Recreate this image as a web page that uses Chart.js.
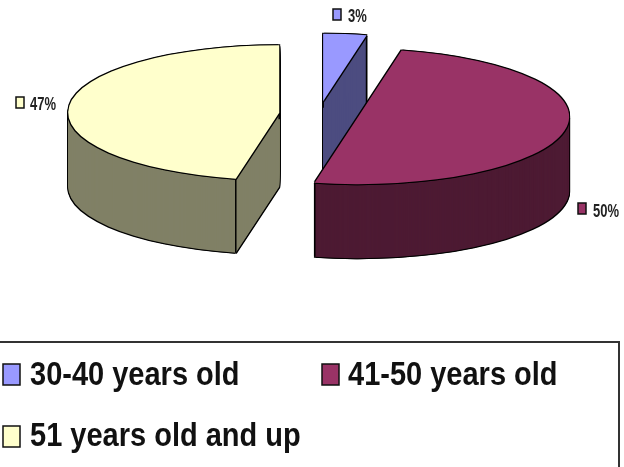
<!DOCTYPE html>
<html>
<head>
<meta charset="utf-8">
<style>
html, body { margin: 0; padding: 0; background: #fff; overflow: hidden; }
canvas { display: block; }
</style>
</head>
<body>
<canvas id="ageChart" width="624" height="467"></canvas>
<script src="https://cdn.jsdelivr.net/npm/chart.js@4/dist/chart.umd.min.js"></script>
<script>
// data, the shares (printed rounded)
const ageLabels = ['30-40 years old', '41-50 years old', '51 years old and up'];
const ageValues = [3.3, 50, 46.7];
const topColors = ['#9999FF', '#993366', '#FFFFCC'];
const sideColors = ['#4C4C80', '#4D1A33', '#808066'];

// where the flattened pie sits on the page
const pieCenterX = 319;
const pieCenterY = 114;
const squash = 0.32;
const depth = 74;
const explode = 40; // each slice moves this far along its middle angle

// small percent labels next to the slices: box x, box y, text x, text centre y
const sliceLabelPos = [
    [333, 9, 348, 17],
    [578, 203, 593, 212],
    [16, 97, 30, 105]
];
// legend rows: box x, box y, text x, text centre y
const legendPos = [
    [3, 364, 30, 376],
    [322, 364, 348, 376],
    [3, 426, 30, 437]
];

// draw text stretched vertically, the picture is a stretched screenshot
function stretchedText(ctx, text, x, y, font, stretch, color) {
    ctx.save();
    ctx.translate(x, y);
    ctx.scale(1, stretch);
    ctx.font = font;
    ctx.fillStyle = color;
    ctx.textAlign = 'left';
    ctx.textBaseline = 'middle';
    ctx.fillText(text, 0, 0);
    ctx.restore();
}

function keyBox(ctx, x, y, w, h, color) {
    ctx.fillStyle = color;
    ctx.strokeStyle = '#111';
    ctx.lineWidth = 1.5;
    ctx.fillRect(x, y, w, h);
    ctx.strokeRect(x, y, w, h);
}

// flat pie + extrusion, every layer is the library's own arc element
const pie3d = {
    id: 'pie3d',
    beforeDatasetsDraw(chart) {
        const ctx = chart.ctx;
        const arcs = chart.getDatasetMeta(0).data;

        function drawArc(arc, color, dx, dy) {
            const saved = arc.options;
            const mid = (arc.startAngle + arc.endAngle) / 2;
            arc.options = Object.assign({}, saved, { backgroundColor: color, borderColor: color, borderWidth: 0 });
            ctx.save();
            ctx.translate(pieCenterX + dx, pieCenterY + dy);
            ctx.scale(1, squash);
            ctx.translate(Math.cos(mid) * explode - arc.x, Math.sin(mid) * explode - arc.y);
            arc.draw(ctx);
            ctx.restore();
            arc.options = saved;
        }

        // page position of a point on the rim of the slice
        function rimPoint(arc, angle) {
            const mid = (arc.startAngle + arc.endAngle) / 2;
            return {
                x: pieCenterX + Math.cos(mid) * explode + Math.cos(angle) * arc.outerRadius,
                y: pieCenterY + (Math.sin(mid) * explode + Math.sin(angle) * arc.outerRadius) * squash
            };
        }

        arcs.forEach((arc, i) => {
            // black edge, then the side walls
            for (let d = depth; d >= 0; d--) {
                drawArc(arc, '#000', -1, d + 1);
                drawArc(arc, '#000', 1, d + 1);
            }
            for (let d = depth; d >= 0; d--) {
                drawArc(arc, sideColors[i], 0, d);
            }
            // vertical edges where the rim meets the cut faces
            ctx.strokeStyle = '#000';
            ctx.lineWidth = 1.5;
            [rimPoint(arc, arc.startAngle), rimPoint(arc, arc.endAngle)].forEach(p => {
                ctx.beginPath();
                ctx.moveTo(p.x, p.y);
                ctx.lineTo(p.x, p.y + depth);
                ctx.stroke();
            });
            // top face
            drawArc(arc, '#000', -1, -1);
            drawArc(arc, '#000', 1, -1);
            drawArc(arc, '#000', -1, 1);
            drawArc(arc, '#000', 1, 1);
            drawArc(arc, topColors[i], 0, 0);
        });
        return false;
    },
    afterDraw(chart) {
        const ctx = chart.ctx;

        // percent labels
        ageValues.forEach((v, i) => {
            const p = sliceLabelPos[i];
            keyBox(ctx, p[0], p[1], 8, 11, topColors[i]);
            stretchedText(ctx, Math.round(v) + '%', p[2], p[3], 'bold 13px "Liberation Sans"', 1.35, '#222');
        });

        // legend frame, open at the bottom of the page
        ctx.strokeStyle = '#333';
        ctx.lineWidth = 2;
        ctx.beginPath();
        ctx.moveTo(0, 342);
        ctx.lineTo(619, 342);
        ctx.lineTo(619, 467);
        ctx.stroke();

        ageLabels.forEach((label, i) => {
            const p = legendPos[i];
            keyBox(ctx, p[0], p[1], 17, 21, topColors[i]);
            stretchedText(ctx, label, p[2], p[3], 'bold 29px "Liberation Sans"', 1.14, '#111');
        });
    }
};

new Chart(document.getElementById('ageChart'), {
    type: 'pie',
    data: {
        labels: ageLabels,
        datasets: [{
            data: ageValues,
            backgroundColor: topColors,
            borderWidth: 0,
            radius: 211
        }]
    },
    options: {
        responsive: false,
        animation: false,
        events: [],
        layout: { padding: 0 },
        plugins: {
            legend: { display: false },
            tooltip: { enabled: false }
        }
    },
    plugins: [pie3d]
});
</script>
</body>
</html>
